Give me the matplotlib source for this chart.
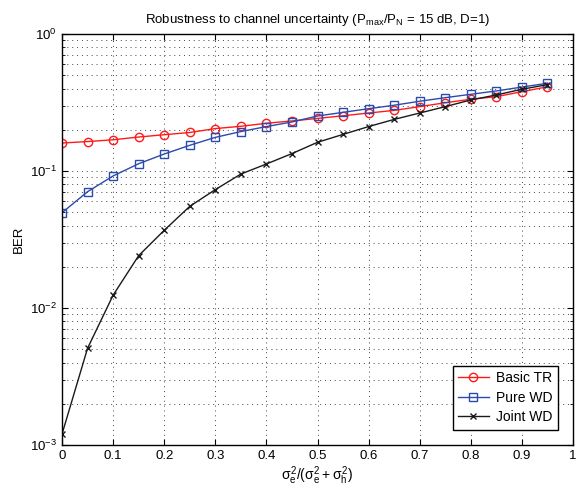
import numpy as np
import matplotlib
matplotlib.use('Agg')
import matplotlib.pyplot as plt
from matplotlib.ticker import LogLocator, NullFormatter

plt.rcParams['font.family'] = ['Liberation Sans', 'DejaVu Sans']
plt.rcParams['mathtext.fontset'] = 'custom'
plt.rcParams['mathtext.rm'] = 'Liberation Sans'
plt.rcParams['mathtext.it'] = 'Liberation Sans'

# Data
ratio = [0, 0.05, 0.1, 0.15, 0.2, 0.25, 0.3, 0.35, 0.4, 0.45, 0.5,
         0.55, 0.6, 0.65, 0.7, 0.75, 0.8, 0.85, 0.9, 0.95]
basic_tr = [0.160, 0.164, 0.169, 0.177, 0.184, 0.191, 0.204, 0.212, 0.223, 0.232,
            0.242, 0.253, 0.265, 0.277, 0.295, 0.315, 0.334, 0.349, 0.379, 0.412]
pure_wd = [0.0496, 0.0706, 0.092, 0.113, 0.133, 0.154, 0.176, 0.194, 0.211, 0.228,
           0.252, 0.268, 0.285, 0.302, 0.323, 0.343, 0.363, 0.384, 0.410, 0.437]
joint_wd = [0.0012, 0.00508, 0.0124, 0.0241, 0.0369, 0.0552, 0.0731, 0.095, 0.1125, 0.134,
            0.162, 0.185, 0.211, 0.238, 0.265, 0.295, 0.330, 0.359, 0.395, 0.427]
xticks = [0, 0.1, 0.2, 0.3, 0.4, 0.5, 0.6, 0.7, 0.8, 0.9, 1]
xticklabels = ['0', '0.1', '0.2', '0.3', '0.4', '0.5', '0.6', '0.7', '0.8', '0.9', '1']

fig = plt.figure(figsize=(5.81, 4.91), dpi=100)
ax = fig.add_axes([62/581, 46/491, 511/581, 411/491])

ax.semilogy(ratio, basic_tr, '-o', color='#ff1a1a', lw=1.0, ms=6,
            mfc='none', mew=1.0, label='Basic TR')
ax.semilogy(ratio, pure_wd, '-s', color='#2a4aad', lw=1.0, ms=5.2,
            mfc='none', mew=1.0, label='Pure WD')
ax.semilogy(ratio, joint_wd, '-x', color='#1a1a1a', lw=1.0, ms=4,
            mew=1.0, label='Joint WD')

ax.set_xlim(0, 1)
ax.set_ylim(1e-3, 1)
ax.set_xticks(xticks)
ax.set_xticklabels(xticklabels)
ax.yaxis.set_major_locator(LogLocator(base=10, numticks=10))
ax.yaxis.set_minor_locator(LogLocator(base=10, subs=np.arange(2, 10), numticks=10))
ax.yaxis.set_minor_formatter(NullFormatter())

ax.tick_params(which='both', direction='in', top=True, right=True, labelsize=9.5)
ax.tick_params(which='major', length=4)
ax.tick_params(which='minor', length=2)
dots = (0, (1, 4))
ax.grid(True, which='major', ls=dots, lw=0.7, color='#444444')
ax.grid(True, which='minor', axis='y', ls=dots, lw=0.7, color='#444444')
for s in ax.spines.values():
    s.set_linewidth(1.0)

ax.set_xlabel(r'$\sigma_e^2/(\sigma_e^2+\sigma_h^2)$', fontsize=10, labelpad=2)
ax.set_ylabel('BER', fontsize=9.5)
ax.set_title(r'Robustness to channel uncertainty (P$_{\rm max}$/P$_{\rm N}$ = 15 dB, D=1)',
             fontsize=9.5, pad=8)

leg = ax.legend(loc='lower right', fontsize=10, fancybox=False, framealpha=1,
                edgecolor='black', borderaxespad=1.1, handlelength=2.2,
                handletextpad=0.5, labelspacing=0.4, borderpad=0.4)
leg.get_frame().set_linewidth(1.0)

fig.savefig('out.png', dpi=100)
